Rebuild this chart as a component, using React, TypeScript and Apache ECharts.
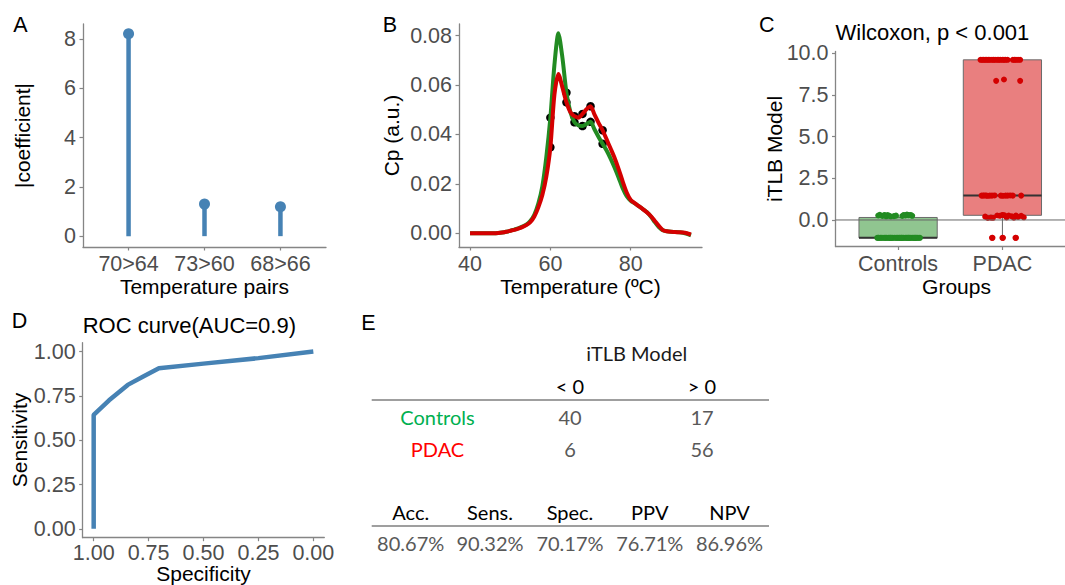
import React, { useEffect, useRef } from "react";
import * as echarts from "echarts";

// ---------- Panel A ----------
const pairLabels = ["70>64", "73>60", "68>66"];
const pairCoefficients = [8.21, 1.3, 1.19];

// ---------- Panel B ----------
const temps = [40, 41, 42, 43, 44, 45, 46, 47, 48, 49, 50, 51, 52, 53, 54, 55, 56, 57, 58, 59, 60, 61, 62, 63, 64, 65, 66, 67, 68, 69, 70, 71, 72, 73, 74, 75, 76, 77, 78, 79, 80, 81, 82, 83, 84, 85, 86, 87, 88, 89, 90, 91, 92, 93, 94, 95];
const cpControls = [0, 0, 0, 0, 0, 0, 0, 0.0001, 0.0003, 0.0006, 0.001, 0.0015, 0.002, 0.0027, 0.0035, 0.005, 0.0075, 0.012, 0.019, 0.031, 0.0468, 0.068, 0.081, 0.071, 0.0569, 0.049, 0.0449, 0.0436, 0.0434, 0.0442, 0.0451, 0.042, 0.039, 0.0362, 0.0335, 0.0302, 0.0265, 0.0225, 0.0182, 0.015, 0.0132, 0.0121, 0.011, 0.0098, 0.0086, 0.0068, 0.0045, 0.0025, 0.0012, 0.0008, 0.0006, 0.0005, 0.0004, 0.0002, -0.0002, -0.0008];
const cpPdac = [0, 0, 0, 0, 0, 0, 0, 0.0001, 0.0003, 0.0006, 0.001, 0.0014, 0.0019, 0.0025, 0.0033, 0.0045, 0.0068, 0.0105, 0.0155, 0.023, 0.0348, 0.056, 0.0645, 0.059, 0.053, 0.049, 0.0474, 0.0468, 0.0483, 0.0502, 0.0514, 0.048, 0.0447, 0.0417, 0.038, 0.0343, 0.0305, 0.026, 0.021, 0.0165, 0.0135, 0.0122, 0.011, 0.0098, 0.0085, 0.007, 0.005, 0.003, 0.0013, 0.0008, 0.0006, 0.0005, 0.0004, 0.0003, 0, -0.0005];
const markerTemps = [60, 64, 66, 68, 70, 73];
const markerControls = [0.0468, 0.0569, 0.0449, 0.0434, 0.0451, 0.0362];
const markerPdac = [0.0348, 0.053, 0.0474, 0.0483, 0.0514, 0.0417];

// ---------- Panel C ----------
const groups = ["Controls", "PDAC"];
// [min, Q1, median, Q3, max]
const boxStats = [
  [-1.07, -1.07, -1.07, 0.15, 0.3],
  [-1.07, 0.28, 1.46, 9.6, 9.6],
];
// [jitter offset, value]
const controlsPoints = [
  [-0.19, 0.27], [-0.175, 0.31], [-0.15, 0.24], [-0.13, 0.3], [-0.115, 0.22], [-0.1, 0.29], [-0.085, 0.25], [-0.07, 0.21], [-0.04, 0.23], [-0.02, 0.26], [0.04, 0.24], [0.055, 0.3], [0.07, 0.27], [0.085, 0.32], [0.1, 0.29], [0.12, 0.3], [0.135, 0.25],
  [-0.2, -1.07], [-0.185, -1.07], [-0.17, -1.07], [-0.16, -1.07], [-0.145, -1.07], [-0.13, -1.07], [-0.12, -1.07], [-0.11, -1.07], [-0.095, -1.07], [-0.085, -1.07], [-0.07, -1.07], [-0.06, -1.07], [-0.05, -1.07], [-0.035, -1.07], [-0.02, -1.07], [-0.01, -1.07], [0.0, -1.07], [0.012, -1.07], [0.02, -1.07], [0.035, -1.07], [0.045, -1.07], [0.055, -1.07], [0.07, -1.07], [0.08, -1.07], [0.09, -1.07], [0.105, -1.07], [0.115, -1.07], [0.125, -1.07], [0.14, -1.07], [0.15, -1.07], [0.16, -1.07], [0.175, -1.07], [0.185, -1.07], [0.2, -1.07], [0.21, -1.07], [-0.19, -1.07], [-0.075, -1.07], [0.03, -1.07], [0.1, -1.07], [0.165, -1.07],
];
const pdacPoints = [
  [-0.21, 9.6], [-0.195, 9.6], [-0.18, 9.6], [-0.165, 9.6], [-0.15, 9.6], [-0.135, 9.6], [-0.12, 9.6], [-0.1, 9.6], [-0.085, 9.6], [-0.07, 9.6], [-0.05, 9.6], [-0.035, 9.6], [-0.02, 9.6], [0.0, 9.6], [0.015, 9.6], [0.03, 9.6], [0.05, 9.6], [0.1, 9.6], [0.115, 9.6], [0.13, 9.6], [0.15, 9.6], [0.17, 9.6],
  [-0.06, 8.34], [0.015, 8.42], [0.17, 8.34],
  [-0.2, 1.46], [-0.185, 1.46], [-0.17, 1.47], [-0.155, 1.46], [-0.14, 1.45], [-0.12, 1.46], [-0.1, 1.46], [-0.075, 1.47], [-0.015, 1.46], [0.005, 1.45], [0.03, 1.46], [0.05, 1.46], [0.075, 1.47], [0.1, 1.46], [0.18, 1.46],
  [-0.165, 0.2], [-0.14, 0.12], [-0.11, 0.14], [-0.09, 0.13], [-0.05, 0.27], [-0.025, 0.25], [0.0, 0.3], [0.02, 0.28], [0.04, 0.15], [0.06, 0.26], [0.09, 0.22], [0.11, 0.14], [0.13, 0.27], [0.15, 0.18], [0.18, 0.25], [0.205, 0.16],
  [-0.1, -1.07], [-0.095, -1.07], [0.0, -1.07], [0.005, -1.07], [0.125, -1.07], [0.13, -1.07],
];

// ---------- Panel D ----------
const rocSpecificity = [1, 1, 0.93, 0.845, 0.77, 0.703, 0.5, 0.25, 0];
const rocSensitivity = [0, 0.643, 0.725, 0.812, 0.862, 0.906, 0.932, 0.963, 1];

// ---------- Panel E ----------
const tableTitle = "iTLB Model";
const tableCols = ["< 0", "> 0"];
const tableRows = ["Controls", "PDAC"];
const tableCounts = [
  [40, 17],
  [6, 56],
];
const metricNames = ["Acc.", "Sens.", "Spec.", "PPV", "NPV"];
const metricValues = ["80.67%", "90.32%", "70.17%", "76.71%", "86.96%"];

const SANS = "Liberation Sans, Arial, sans-serif";
const TABLE_FONT = "Lato, 'Open Sans', sans-serif";
const TABLE_SIZE = 20;
const AXIS_COL = "#858585";
const TICK_COL = "#4d4d4d";
const STEEL = "#4682B4";
const GREEN = "#228B22";
const RED = "#D40000";

function axisBase(extra: any) {
  return {
    axisLine: { show: true, onZero: false, lineStyle: { color: AXIS_COL, width: 1.3 } },
    axisTick: { show: true, length: 3.5, lineStyle: { color: AXIS_COL, width: 1.2 }, customValues: extra.ticks },
    axisLabel: {
      color: TICK_COL,
      fontSize: 21.5,
      fontFamily: SANS,
      margin: extra.margin,
      customValues: extra.ticks,
      formatter: extra.formatter,
    },
    splitLine: { show: false },
  };
}

function txt(text: string, x: number, y: number, opts: any = {}) {
  return {
    type: "text",
    x,
    y,
    rotation: opts.rotation || 0,
    silent: true,
    style: {
      text,
      fill: opts.fill || "#000",
      fontSize: opts.fontSize || 21,
      fontFamily: opts.fontFamily || SANS,
      align: opts.align || "center",
      verticalAlign: "middle",
    },
  };
}

function hline(x1: number, x2: number, y: number) {
  return {
    type: "line",
    silent: true,
    shape: { x1, y1: y, x2, y2: y },
    style: { stroke: "#7f7f7f", lineWidth: 1.5 },
  };
}

export default function App() {
  const ref = useRef<HTMLDivElement>(null);

  useEffect(() => {
    if (!ref.current) return;
    const chart = echarts.init(ref.current, undefined, { renderer: "svg" });

    const grids = [
      { left: 83, top: 24, width: 243, height: 223 },
      { left: 459, top: 24, width: 243, height: 223 },
      { left: 835.5, top: 51.5, width: 242.5, height: 195 },
      { left: 82.7, top: 342.7, width: 241.6, height: 195 },
    ];

    // Table layout
    const colX = [570, 702];
    const rowLabelX = 437.5;
    const rowY = [417.3, 449.3];
    const metricX = [410.7, 490, 570, 649.8, 729.5];
    const tf = { fontFamily: TABLE_FONT, fontSize: TABLE_SIZE };
    const tableGraphics: any[] = [];
    tableGraphics.push(txt(tableTitle, 636.7, 353.3, { ...tf, fill: "#1a1a1a" }));
    tableCols.forEach((c, i) => tableGraphics.push(txt(c, colX[i], 385.7, { ...tf, fill: "#000" })));
    tableGraphics.push(hline(371.7, 769, 400));
    tableRows.forEach((r, ri) => {
      tableGraphics.push(txt(r, rowLabelX, rowY[ri], { ...tf, fill: ri === 0 ? "#00B050" : "#FF0000" }));
      tableCounts[ri].forEach((v, ci) => tableGraphics.push(txt(String(v), colX[ci], rowY[ri], { ...tf, fill: "#595959" })));
    });
    metricNames.forEach((m, i) => tableGraphics.push(txt(m, metricX[i], 511.7, { ...tf, fill: "#000" })));
    tableGraphics.push(hline(371.7, 769, 526));
    metricValues.forEach((m, i) => tableGraphics.push(txt(m, metricX[i], 542.7, { ...tf, fill: "#595959" })));

    const rot = Math.PI / 2;
    const option: any = {
      animation: false,
      backgroundColor: "#ffffff",
      grid: grids,
      xAxis: [
        {
          type: "value", gridIndex: 0, min: 0.4, max: 3.6,
          ...axisBase({ ticks: [1, 2, 3], margin: 6, formatter: (v: number) => pairLabels[Math.round(v) - 1] }),
        },
        {
          type: "value", gridIndex: 1, min: 37.25, max: 97.75,
          ...axisBase({ ticks: [40, 60, 80], margin: 6, formatter: (v: number) => String(v) }),
        },
        {
          type: "value", gridIndex: 2, min: 0.4, max: 2.6,
          ...axisBase({ ticks: [1, 2], margin: 6, formatter: (v: number) => groups[Math.round(v) - 1] }),
        },
        {
          type: "value", gridIndex: 3, min: -0.05, max: 1.05, inverse: true,
          ...axisBase({ ticks: [0, 0.25, 0.5, 0.75, 1], margin: 4, formatter: (v: number) => v.toFixed(2) }),
        },
      ],
      yAxis: [
        {
          type: "value", gridIndex: 0, min: -0.44, max: 8.61,
          ...axisBase({ ticks: [0, 2, 4, 6, 8], margin: 7, formatter: (v: number) => String(v) }),
        },
        {
          type: "value", gridIndex: 1, min: -0.00555, max: 0.0847,
          ...axisBase({ ticks: [0, 0.02, 0.04, 0.06, 0.08], margin: 7, formatter: (v: number) => v.toFixed(2) }),
        },
        {
          type: "value", gridIndex: 2, min: -1.59, max: 10.1,
          ...axisBase({ ticks: [0, 2.5, 5, 7.5, 10], margin: 7, formatter: (v: number) => v.toFixed(1) }),
        },
        {
          type: "value", gridIndex: 3, min: -0.05, max: 1.05,
          ...axisBase({ ticks: [0, 0.25, 0.5, 0.75, 1], margin: 7, formatter: (v: number) => v.toFixed(2) }),
        },
      ],
      series: [
        // A: lollipops
        {
          type: "custom",
          xAxisIndex: 0,
          yAxisIndex: 0,
          data: pairCoefficients.map((v, i) => [i + 1, v]),
          renderItem: (_p: any, api: any) => {
            const x = api.value(0);
            const v = api.value(1);
            const p0 = api.coord([x, 0]);
            const p1 = api.coord([x, v]);
            return {
              type: "group",
              children: [
                { type: "line", shape: { x1: p0[0], y1: p0[1], x2: p1[0], y2: p1[1] }, style: { stroke: STEEL, lineWidth: 4.5 } },
                { type: "circle", shape: { cx: p1[0], cy: p1[1], r: 5.5 }, style: { fill: STEEL } },
              ],
            };
          },
        },
        // B: curves
        {
          type: "line",
          xAxisIndex: 1,
          yAxisIndex: 1,
          data: temps.map((t, i) => [t, cpControls[i]]),
          showSymbol: false,
          smooth: 0.25,
          lineStyle: { color: GREEN, width: 4 },
        },
        {
          type: "line",
          xAxisIndex: 1,
          yAxisIndex: 1,
          data: temps.map((t, i) => [t, cpPdac[i]]),
          showSymbol: false,
          smooth: 0.25,
          lineStyle: { color: RED, width: 4 },
        },
        {
          type: "scatter",
          xAxisIndex: 1,
          yAxisIndex: 1,
          data: markerTemps.map((t, i) => [t, markerControls[i]]).concat(markerTemps.map((t, i) => [t, markerPdac[i]])),
          symbolSize: 8.5,
          itemStyle: { color: "#000", opacity: 1 },
        },
        // C: boxes
        {
          type: "custom",
          xAxisIndex: 2,
          yAxisIndex: 2,
          data: boxStats.map((s, i) => [i + 1, ...s]),
          renderItem: (p: any, api: any) => {
            const x = api.value(0);
            const mn = api.value(1), q1 = api.value(2), md = api.value(3), q3 = api.value(4), mx = api.value(5);
            const hw = 0.375;
            const tl = api.coord([x - hw, q3]);
            const br = api.coord([x + hw, q1]);
            const ml = api.coord([x - hw, md]);
            const mr = api.coord([x + hw, md]);
            const c = api.coord([x, 0]);
            const yq1 = api.coord([x, q1])[1];
            const yq3 = api.coord([x, q3])[1];
            const ymn = api.coord([x, mn])[1];
            const ymx = api.coord([x, mx])[1];
            const fill = p.dataIndex === 0 ? "rgba(34,139,34,0.5)" : "rgba(212,0,0,0.5)";
            return {
              type: "group",
              children: [
                { type: "line", shape: { x1: c[0], y1: yq1, x2: c[0], y2: ymn }, style: { stroke: "#666", lineWidth: 1 } },
                { type: "line", shape: { x1: c[0], y1: yq3, x2: c[0], y2: ymx }, style: { stroke: "#666", lineWidth: 1 } },
                { type: "rect", shape: { x: tl[0], y: tl[1], width: br[0] - tl[0], height: br[1] - tl[1] }, style: { fill, stroke: "#6a6a6a", lineWidth: 1 } },
                { type: "line", shape: { x1: ml[0], y1: ml[1], x2: mr[0], y2: mr[1] }, style: { stroke: "#333", lineWidth: 2 } },
              ],
            };
          },
        },
        {
          type: "line",
          xAxisIndex: 2,
          yAxisIndex: 2,
          data: [[0.4, 0], [2.6, 0]],
          showSymbol: false,
          lineStyle: { color: "#666", width: 1 },
        },
        {
          type: "scatter",
          xAxisIndex: 2,
          yAxisIndex: 2,
          data: controlsPoints.map(([o, v]) => [1 + o, v]),
          symbolSize: 6,
          itemStyle: { color: GREEN, opacity: 1 },
        },
        {
          type: "scatter",
          xAxisIndex: 2,
          yAxisIndex: 2,
          data: pdacPoints.map(([o, v]) => [2 + o, v]),
          symbolSize: 6,
          itemStyle: { color: RED, opacity: 1 },
        },
        // D: ROC
        {
          type: "line",
          xAxisIndex: 3,
          yAxisIndex: 3,
          data: rocSpecificity.map((s, i) => [s, rocSensitivity[i]]),
          showSymbol: false,
          lineStyle: { color: STEEL, width: 4.5 },
        },
      ],
      graphic: [
        txt("A", 20.5, 25, { fontSize: 21.5 }),
        txt("B", 390, 25, { fontSize: 21.5 }),
        txt("C", 766.7, 25, { fontSize: 21.5 }),
        txt("D", 19.5, 320.5, { fontSize: 21.5 }),
        txt("E", 368.3, 322.5, { fontSize: 21.5 }),
        txt("Temperature pairs", 204.5, 286),
        txt("|coefficient|", 22.5, 135.5, { rotation: rot }),
        txt("Temperature (ºC)", 580.5, 286),
        txt("Cp (a.u.)", 391.7, 135.5, { rotation: rot }),
        txt("Wilcoxon, p < 0.001", 835.5, 32.7, { align: "left", fontSize: 22 }),
        txt("Groups", 956.5, 286),
        txt("iTLB Model", 774, 149, { rotation: rot }),
        txt("ROC curve(AUC=0.9)", 82.7, 325, { align: "left", fontSize: 22 }),
        txt("Specificity", 203.5, 573),
        txt("Sensitivity", 19, 440, { rotation: rot }),
        ...tableGraphics,
      ],
    };

    chart.setOption(option);
    return () => chart.dispose();
  }, []);

  return (
    <div style={{ position: "absolute", left: 0, top: 0, width: 1065, height: 585, overflow: "hidden", background: "#fff" }}>
      <div ref={ref} style={{ width: 1065, height: 585 }} />
    </div>
  );
}
